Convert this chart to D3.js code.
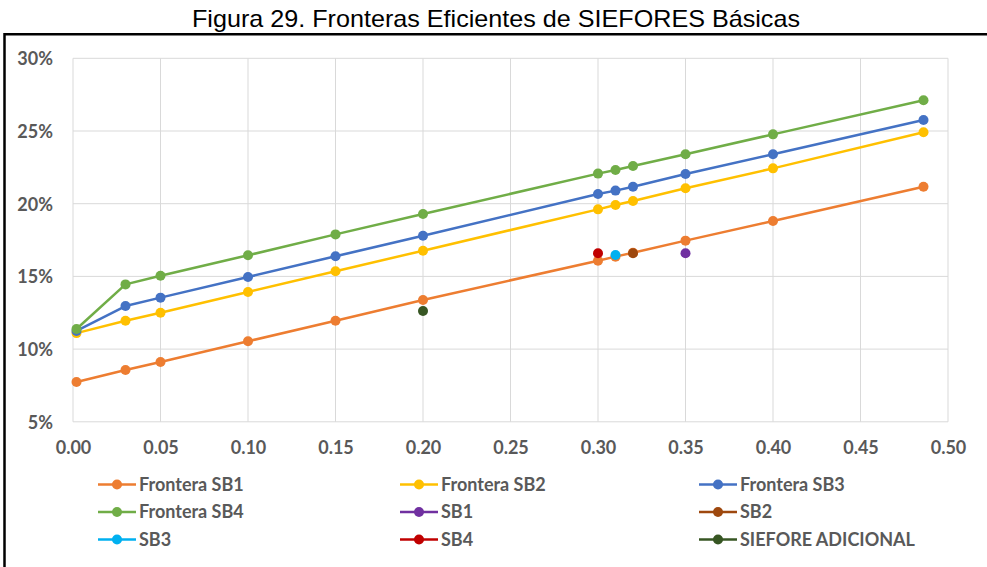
<!DOCTYPE html>
<html>
<head>
<meta charset="utf-8">
<script src="https://cdn.jsdelivr.net/npm/d3@7"></script>
<style>
  html, body { margin: 0; padding: 0; background: #fff; }
  svg { display: block; }
</style>
</head>
<body>
<svg id="chart" width="987" height="567"></svg>
<script>
// Risk (x) shared by every efficient frontier
const frontierRisk = [0.002, 0.03, 0.05, 0.10, 0.15, 0.20, 0.30, 0.31, 0.32, 0.35, 0.40, 0.486];

// Expected return along each frontier
const fronteraSB1 = [0.0774, 0.0856, 0.0911, 0.1054, 0.1195, 0.1338, 0.1608, 0.1636, 0.1663, 0.1746, 0.1881, 0.2116];
const fronteraSB2 = [0.1110, 0.1195, 0.1250, 0.1393, 0.1535, 0.1677, 0.1961, 0.1991, 0.2019, 0.2106, 0.2243, 0.2491];
const fronteraSB3 = [0.1125, 0.1296, 0.1354, 0.1496, 0.1638, 0.1780, 0.2067, 0.2090, 0.2117, 0.2204, 0.2340, 0.2576];
const fronteraSB4 = [0.1138, 0.1445, 0.1505, 0.1645, 0.1789, 0.1929, 0.2207, 0.2232, 0.2259, 0.2340, 0.2477, 0.2711];

// Individual funds: [risk, return]
const sb1 = [[0.35, 0.1659]];
const sb2 = [[0.32, 0.1659]];
const sb3 = [[0.31, 0.1647]];
const sb4 = [[0.30, 0.1659]];
const sieforeAdicional = [[0.20, 0.1262]];

const seriesNames = ["Frontera SB1", "Frontera SB2", "Frontera SB3", "Frontera SB4",
                     "SB1", "SB2", "SB3", "SB4", "SIEFORE ADICIONAL"];
const seriesColors = ["#ED7D31", "#FFC000", "#4472C4", "#70AD47",
                      "#7030A0", "#9E480E", "#00B0F0", "#C00000", "#375623"];

const xTicks = [0, 0.05, 0.10, 0.15, 0.20, 0.25, 0.30, 0.35, 0.40, 0.45, 0.50];
const yTicks = [0.05, 0.10, 0.15, 0.20, 0.25, 0.30];

const titleText = "Figura 29. Fronteras Eficientes de SIEFORES Básicas";

const svg = d3.select("#chart");
const labelFont = "Lato, 'Open Sans', sans-serif";
const labelColor = "#595959";

const x = d3.scaleLinear().domain([0, 0.5]).range([73, 948]);
const y = d3.scaleLinear().domain([0.05, 0.30]).range([421.8, 58.3]);

// Title and frame
const title = svg.append("text")
  .attr("x", 496).attr("y", 27)
  .attr("text-anchor", "middle")
  .style("font-family", "'Liberation Sans', Arial, sans-serif")
  .style("font-size", "24px")
  .attr("fill", "#000")
  .text(titleText);
title.attr("textLength", 608).attr("lengthAdjust", "spacingAndGlyphs");

svg.append("path")
  .attr("d", "M4.5,567V34.3H987")
  .attr("fill", "none")
  .attr("stroke", "#000")
  .attr("stroke-width", 2.5);

// Gridlines
const grid = svg.append("g");
grid.selectAll("line.v").data(xTicks).join("line")
  .attr("class", "v")
  .attr("x1", d => x(d)).attr("x2", d => x(d))
  .attr("y1", y(0.30)).attr("y2", y(0.05))
  .attr("stroke", "#D9D9D9").attr("stroke-width", 1);
grid.selectAll("line.h").data(yTicks).join("line")
  .attr("class", "h")
  .attr("x1", x(0)).attr("x2", x(0.5))
  .attr("y1", d => y(d)).attr("y2", d => y(d))
  .attr("stroke", "#D9D9D9").attr("stroke-width", 1);

// Axes (labels only; lines come from the grid)
const xAxis = d3.axisBottom(x).tickValues(xTicks).tickFormat(d3.format(".2f")).tickSize(0).tickPadding(0);
const yAxis = d3.axisLeft(y).tickValues(yTicks).tickFormat(d3.format(".0%")).tickSize(0).tickPadding(0);

const gx = svg.append("g").attr("transform", "translate(0,441)").call(xAxis);
const gy = svg.append("g").attr("transform", "translate(53,0)").call(yAxis);
[gx, gy].forEach(g => {
  g.select(".domain").remove();
  g.selectAll("text")
    .style("font-family", labelFont)
    .style("font-size", "18px")
    .style("font-weight", "bold")
    .attr("fill", labelColor);
});
gx.selectAll("text").attr("dy", "0.71em");
gy.selectAll("text").attr("dy", "0.36em");

// Frontier lines with markers
const frontiers = [fronteraSB1, fronteraSB2, fronteraSB3, fronteraSB4];
const line = d3.line().x(d => x(d[0])).y(d => y(d[1]));

frontiers.forEach((vals, i) => {
  const pts = frontierRisk.map((r, j) => [r, vals[j]]);
  const g = svg.append("g");
  g.append("path")
    .datum(pts)
    .attr("d", line)
    .attr("fill", "none")
    .attr("stroke", seriesColors[i])
    .attr("stroke-width", 2.5)
    .attr("stroke-linejoin", "round");
  g.selectAll("circle").data(pts).join("circle")
    .attr("cx", d => x(d[0])).attr("cy", d => y(d[1]))
    .attr("r", 5)
    .attr("fill", seriesColors[i]);
});

// Individual fund markers
const funds = [sb1, sb2, sb3, sb4, sieforeAdicional];
funds.forEach((pts, k) => {
  svg.append("g").selectAll("circle").data(pts).join("circle")
    .attr("cx", d => x(d[0])).attr("cy", d => y(d[1]))
    .attr("r", 5)
    .attr("fill", seriesColors[k + 4]);
});

// Legend: three columns
const legendCols = [98, 400, 699];
const legendRows = [484.5, 512, 539.5];
const legend = svg.append("g");
seriesNames.forEach((name, i) => {
  const lx = legendCols[i % 3];
  const ly = legendRows[Math.floor(i / 3)];
  const item = legend.append("g").attr("transform", `translate(${lx},${ly})`);
  item.append("line")
    .attr("x1", 0).attr("x2", 38).attr("y1", 0).attr("y2", 0)
    .attr("stroke", seriesColors[i]).attr("stroke-width", 2.5);
  item.append("circle").attr("cx", 19).attr("cy", 0).attr("r", 5).attr("fill", seriesColors[i]);
  item.append("text")
    .attr("x", 41).attr("y", 0).attr("dy", "0.36em")
    .style("font-family", labelFont)
    .style("font-size", "18px")
    .style("font-weight", "bold")
    .attr("fill", labelColor)
    .text(name);
});
</script>
</body>
</html>
